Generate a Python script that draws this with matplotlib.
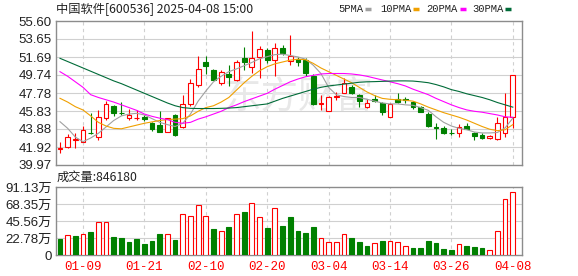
import matplotlib
matplotlib.use("Agg")
import matplotlib.pyplot as plt
from matplotlib.lines import Line2D
import numpy as np

# trading days shown (2025)
dates = ["01-06", "01-07", "01-08", "01-09", "01-10", "01-13", "01-14", "01-15", "01-16", "01-17",
         "01-20", "01-21", "01-22", "01-23", "01-24", "01-27", "02-05", "02-06", "02-07", "02-10",
         "02-11", "02-12", "02-13", "02-14", "02-17", "02-18", "02-19", "02-20", "02-21", "02-24",
         "02-25", "02-26", "02-27", "02-28", "03-03", "03-04", "03-05", "03-06", "03-07", "03-10",
         "03-11", "03-12", "03-13", "03-14", "03-17", "03-18", "03-19", "03-20", "03-21", "03-24",
         "03-25", "03-26", "03-27", "03-28", "03-31", "04-01", "04-02", "04-03", "04-07", "04-08"]
tick_dates = ["01-09", "01-21", "02-10", "02-20", "03-04", "03-14", "03-26", "04-08"]

opens = [41.72, 41.96, 42.72, 42.50, 43.45, 42.98, 45.11, 46.37, 45.62, 45.11,
         45.02, 45.21, 44.56, 44.31, 43.58, 45.40, 44.13, 46.59, 48.65, 51.18,
         50.28, 48.84, 49.90, 49.20, 51.55, 50.57, 51.66, 52.45, 51.37, 52.64,
         51.29, 51.45, 51.37, 49.63, 46.60, 45.87, 47.35, 47.82, 48.47, 47.57,
         46.30, 47.10, 46.67, 45.21, 47.10, 47.10, 46.84, 46.23, 45.51, 44.05,
         44.02, 43.45, 43.41, 44.20, 43.48, 43.23, 42.87, 42.76, 43.48, 45.21]
highs = [42.50, 43.30, 43.41, 44.24, 45.65, 45.94, 46.92, 46.48, 46.84, 46.00,
         45.90, 45.35, 44.67, 45.83, 45.10, 45.51, 47.57, 49.31, 51.80, 51.83,
         50.35, 50.28, 50.85, 51.37, 52.81, 54.50, 52.90, 52.64, 53.25, 52.95,
         54.08, 51.73, 51.55, 49.90, 47.57, 47.45, 47.93, 49.38, 48.70, 47.68,
         47.10, 47.57, 46.84, 46.67, 47.75, 47.40, 46.95, 46.40, 45.76, 44.50,
         44.15, 43.85, 44.42, 44.56, 43.59, 43.40, 43.23, 45.21, 47.82, 49.74]
lows = [41.25, 41.85, 41.78, 42.43, 43.34, 42.68, 44.85, 45.30, 45.40, 44.85,
        44.82, 44.80, 43.70, 43.52, 43.52, 43.12, 43.95, 46.41, 48.40, 49.90,
        49.15, 48.60, 48.55, 49.10, 50.28, 50.00, 49.40, 51.05, 49.60, 51.90,
        50.80, 50.72, 49.63, 46.50, 45.94, 45.85, 47.00, 47.75, 47.70, 46.30,
        46.12, 46.85, 45.40, 45.20, 46.73, 46.73, 46.00, 45.70, 44.06, 42.76,
        43.30, 43.23, 43.04, 43.85, 42.68, 42.80, 42.80, 42.68, 42.98, 44.00]
closes = [41.78, 42.98, 42.76, 43.77, 43.41, 45.15, 46.56, 45.65, 45.58, 45.40,
          45.05, 44.93, 43.85, 43.58, 45.04, 43.23, 46.59, 48.84, 50.35, 50.72,
          49.20, 50.05, 49.55, 51.18, 51.12, 51.55, 52.56, 51.37, 52.64, 52.10,
          51.83, 51.20, 49.99, 46.56, 46.70, 47.38, 47.42, 48.84, 47.75, 46.95,
          46.67, 46.92, 45.76, 46.56, 46.84, 47.05, 46.23, 45.76, 44.20, 44.00,
          43.48, 43.41, 44.13, 43.88, 43.12, 42.87, 43.12, 44.50, 45.22, 49.74]
close_before = 42.10  # close of the day before the window

# volume in 万手
volume = [21.3, 26.2, 25.3, 28.0, 31.1, 44.0, 44.0, 24.0, 22.6, 17.8,
          21.3, 14.7, 19.1, 28.0, 28.0, 20.4, 54.7, 52.0, 66.6, 52.0,
          34.6, 32.0, 37.3, 54.6, 57.3, 69.3, 50.6, 36.0, 62.6, 38.6,
          50.6, 32.0, 29.3, 37.3, 22.2, 17.3, 17.3, 27.5, 22.6, 17.3,
          12.0, 15.5, 18.7, 18.7, 17.3, 11.5, 9.3, 9.3, 18.7, 16.0,
          8.0, 6.7, 14.2, 12.0, 10.7, 9.3, 6.7, 32.0, 75.5, 84.618]
last_volume = 846180

# moving averages as drawn on the chart
ma5 = [44.67, 43.95, 43.0, 42.5, 42.9, 43.41, 44.1, 44.8, 45.3, 45.5,
       45.58, 45.4, 45.0, 44.6, 44.35, 44.15, 44.5, 45.5, 46.9, 48.0,
       49.0, 49.6, 50.1, 50.4, 50.75, 51.1, 51.5, 51.73, 51.95, 52.0,
       51.85, 51.7, 51.45, 50.8, 49.9, 48.4, 47.6, 47.4, 47.3, 47.3,
       47.1, 46.9, 46.7, 46.6, 46.6, 46.5, 46.45, 46.2, 45.9, 45.2,
       44.6, 44.2, 43.95, 43.8, 43.55, 43.45, 43.45, 43.5, 44.0, 45.05]
ma10 = [47.21, 46.8, 46.3, 45.94, 45.3, 44.6, 44.2, 43.95, 43.9, 44.1,
        44.3, 44.5, 44.65, 44.8, 44.9, 44.95, 45.0, 45.3, 45.8, 46.2,
        46.4, 46.8, 47.3, 48.1, 48.9, 49.6, 50.2, 50.64, 50.95, 51.15,
        51.35, 51.45, 51.4, 51.0, 50.5, 50.1, 49.7, 49.3, 48.9, 48.4,
        47.9, 47.5, 47.2, 47.1, 47.05, 47.0, 46.9, 46.6, 46.25, 45.95,
        45.65, 45.4, 45.15, 44.85, 44.5, 44.15, 43.85, 43.7, 43.8, 44.35]
ma20 = [50.1, 49.6, 49.0, 48.4, 47.6, 47.3, 47.05, 46.8, 46.5, 46.2,
        45.9, 45.5, 45.25, 45.05, 44.9, 44.6, 44.5, 44.6, 44.95, 45.2,
        45.5, 45.8, 46.2, 46.5, 46.85, 47.15, 47.45, 47.75, 48.2, 48.6,
        49.0, 49.3, 49.55, 49.7, 49.85, 49.9, 49.9, 49.9, 49.85, 49.75,
        49.6, 49.4, 49.2, 49.0, 48.8, 48.55, 48.2, 47.9, 47.6, 47.2,
        46.85, 46.5, 46.2, 45.95, 45.8, 45.7, 45.55, 45.4, 45.2, 45.15]
ma30 = [51.55, 51.2, 50.85, 50.5, 50.15, 49.8, 49.45, 49.1, 48.8, 48.45,
        48.1, 47.75, 47.4, 47.05, 46.7, 46.4, 46.2, 46.12, 46.1, 46.1,
        46.1, 46.12, 46.15, 46.2, 46.3, 46.4, 46.5, 46.6, 46.9, 47.2,
        47.45, 47.7, 47.95, 48.2, 48.4, 48.55, 48.65, 48.75, 48.85, 48.95,
        49.0, 49.02, 49.05, 49.08, 49.1, 49.1, 49.08, 49.0, 48.9, 48.7,
        48.45, 48.15, 47.95, 47.7, 47.5, 47.3, 47.05, 46.75, 46.5, 46.25]

price_ticks = [55.60, 53.65, 51.69, 49.74, 47.78, 45.83, 43.88, 41.92, 39.97]
vol_ticks = [0, 22.78, 45.56, 68.35, 91.13]

RED = "#ff0000"
GREEN = "#008000"
GRID = "#d0d0d0"
EDGE = "#8c8c8c"
ma_names = ["5PMA", "10PMA", "20PMA", "30PMA"]
ma_colors = ["#a0a0a0", "#f0a000", "#ff00ff", "#006b38"]

W, H = 578, 276
fig = plt.figure(figsize=(W / 100, H / 100), dpi=100)
ax = fig.add_axes([56 / W, 1 - 165 / H, 466 / W, 144 / H])
axv = fig.add_axes([56 / W, 1 - 255 / H, 466 / W, 68 / H])

x = np.arange(len(dates))
o = np.array(opens); c = np.array(closes)
hi = np.array(highs); lo = np.array(lows)
up = c >= o
top = np.maximum(o, c); bot = np.minimum(o, c)
cols = np.where(up, RED, GREEN)
bw = 0.62
lw = 0.8

# candles
ax.vlines(x, top, hi, colors=cols, linewidth=lw, zorder=3)
ax.vlines(x, lo, bot, colors=cols, linewidth=lw, zorder=3)
ax.bar(x, np.maximum(top - bot, 0.02), bottom=bot, width=bw,
       facecolor=np.where(up, "white", GREEN), edgecolor=cols, linewidth=lw, zorder=3)

for vals, col in zip([ma5, ma10, ma20, ma30], ma_colors):
    ax.plot(x, vals, color=col, linewidth=0.8, zorder=4)

# watermark
ax.text(0.52, 0.47, "东方财富", transform=ax.transAxes, fontsize=27, color="#e8e8e8",
        ha="center", va="center", family=["Noto Sans CJK SC"], zorder=1)

# volume, coloured by change from previous close
prev = np.concatenate([[close_before], c[:-1]])
vup = c >= prev
vcols = np.where(vup, RED, GREEN)
axv.bar(x, volume, width=bw, facecolor=np.where(vup, "white", GREEN),
        edgecolor=vcols, linewidth=lw, zorder=3)

tick_pos = [dates.index(d) for d in tick_dates]
for a in (ax, axv):
    a.set_xlim(-0.52, 60.2)
    for s in a.spines.values():
        s.set_color(EDGE)
        s.set_linewidth(1)
    a.tick_params(length=0, pad=3, labelsize=9.5, colors="#222222")
    for p in tick_pos:
        a.axvline(p, color=GRID, linewidth=0.8, linestyle=(0, (3, 3)), zorder=0)

ax.set_ylim(price_ticks[-1], price_ticks[0])
ax.set_yticks(price_ticks, [f"{t:.2f}" for t in price_ticks], family="Liberation Sans")
for t in price_ticks[1:-1]:
    ax.axhline(t, color=GRID, linewidth=0.8, zorder=0)
ax.set_xticks([])

axv.set_ylim(0, vol_ticks[-1])
axv.set_yticks(vol_ticks, ["0"] + [f"{t:.2f}万" for t in vol_ticks[1:]],
               family=["Liberation Sans", "Noto Sans CJK SC"])
for t in vol_ticks[1:-1]:
    axv.axhline(t, color=GRID, linewidth=0.8, zorder=0)
axv.set_xticks(tick_pos, tick_dates, family="Liberation Mono", fontsize=9)
axv.tick_params(axis="x", colors=RED, pad=4)

# header texts
fam = ["Noto Sans CJK SC", "DejaVu Sans"]
fig.text(56 / W, 1 - 9 / H, "中国软件[600536] 2025-04-08 15:00", fontsize=8.8,
         va="center", ha="left", family=fam, color="#222222")
fig.text(57 / W, 1 - 177 / H, f"成交量:{last_volume}", fontsize=8.8,
         va="center", ha="left", family=fam, color="#222222")

lx = [338, 380, 426, 472]
for name, px in zip(ma_names, lx):
    fig.text(px / W, 1 - 9 / H, name, fontsize=7.6, va="center", ha="left",
             family="Liberation Mono", color="#222222")
dash_x = [365, 413, 460, 505]
for col, px in zip(ma_colors, dash_x):
    fig.add_artist(Line2D([px / W, (px + 6) / W], [1 - 9 / H, 1 - 9 / H],
                          color=col, linewidth=2.5, solid_capstyle="butt"))

fig.savefig("out.png", dpi=100)
